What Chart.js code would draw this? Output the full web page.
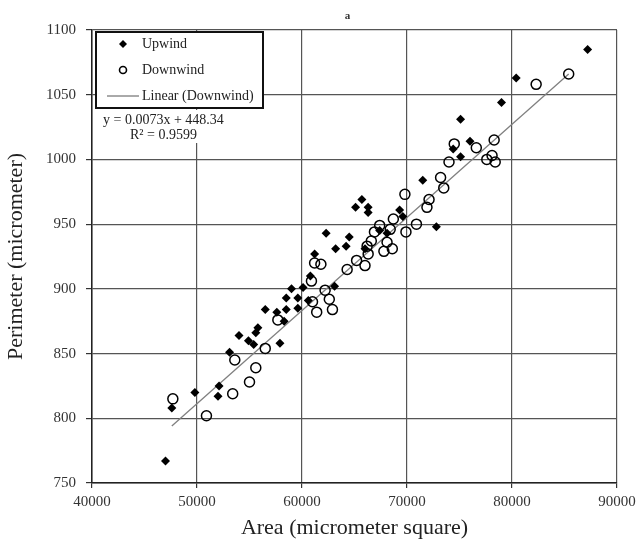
<!DOCTYPE html>
<html>
<head>
<meta charset="utf-8">
<script src="https://cdn.jsdelivr.net/npm/chart.js@4/dist/chart.umd.min.js"></script>
<style>
  html, body { margin: 0; padding: 0; background: #fff; }
  #wrap { width: 641px; height: 551px; position: relative; }
</style>
</head>
<body>
<div id="wrap"><canvas id="c" width="641" height="551"></canvas></div>
<script>
// ---- data ----
const chartTitle = "a";
const xAxisTitle = "Area (micrometer square)";
const yAxisTitle = "Perimeter (micrometer)";
const seriesNames = ["Upwind", "Downwind", "Linear (Downwind)"];
const equationLines = ["y = 0.0073x + 448.34", "R\u00b2 = 0.9599"];

const xTicks = [40000, 50000, 60000, 70000, 80000, 90000];
const yTicks = [750, 800, 850, 900, 950, 1000, 1050, 1100];

const upwindX = [47000, 47600, 49800, 52000, 52100, 53100, 54000, 54900, 55400, 55600, 55800, 56500, 57600, 57900, 58300, 58500, 58500, 59000, 59600, 59600, 60100, 60600, 60800, 61200, 62300, 63100, 63200, 64200, 64500, 65100, 65700, 66300, 66300, 66000, 67400, 68100, 69300, 69600, 71500, 72800, 74400, 75100, 75100, 76000, 79000, 80400, 87200];
const upwindY = [767, 808, 820, 817, 825, 851, 864, 860, 857, 866, 870, 884, 882, 858, 875, 884, 893, 900, 893, 885, 901, 891, 910, 927, 943, 902, 931, 933, 940, 963, 969, 963, 959, 931, 945, 943, 961, 956, 984, 948, 1008, 1002, 1031, 1014, 1044, 1063, 1085];

const downwindX = [47700, 50900, 53400, 53600, 55000, 55600, 56500, 57700, 60900, 61000, 61400, 61200, 61800, 62200, 62600, 62900, 64300, 65200, 66000, 66300, 66200, 66600, 66900, 67400, 67800, 68100, 68400, 68600, 68700, 69900, 70900, 69800, 71900, 72100, 73200, 73500, 74000, 74500, 76600, 77600, 78100, 78400, 78300, 82300, 85400];
const downwindY = [815, 802, 819, 845, 828, 839, 854, 876, 906, 890, 882, 920, 919, 899, 892, 884, 915, 922, 918, 927, 933, 937, 944, 949, 929, 936, 946, 931, 954, 944, 950, 973, 963, 969, 986, 978, 998, 1012, 1009, 1000, 1003, 998, 1015, 1058, 1066];

// trend line end points
const trendX = [47600, 85400];
const trendY = [794, 1066];

// ---- build ----
const zip = (xs, ys) => xs.map((x, i) => ({ x: x, y: ys[i] }));
const SERIF = '"Liberation Serif", "Times New Roman", serif';

const overlayPlugin = {
  id: 'overlay',
  afterDraw(chart) {
    const ctx = chart.ctx;
    ctx.save();
    // title
    ctx.fillStyle = '#333';
    ctx.font = 'bold 11px ' + SERIF;
    ctx.textAlign = 'center';
    ctx.textBaseline = 'middle';
    ctx.fillText(chartTitle, (chart.chartArea.left + chart.chartArea.right) / 2 - 7, 16);

    // legend box
    const bx = 96, by = 32, bw = 167, bh = 76;
    ctx.fillStyle = '#fff';
    ctx.fillRect(bx, by, bw, bh);
    ctx.strokeStyle = '#111';
    ctx.lineWidth = 2;
    ctx.strokeRect(bx, by, bw, bh);

    ctx.font = '14px ' + SERIF;
    ctx.textAlign = 'left';
    ctx.fillStyle = '#222';
    const rows = [44, 70, 96];
    // Upwind marker
    ctx.beginPath();
    ctx.moveTo(123 - 4, rows[0]); ctx.lineTo(123, rows[0] - 4);
    ctx.lineTo(123 + 4, rows[0]); ctx.lineTo(123, rows[0] + 4); ctx.closePath();
    ctx.fillStyle = '#000'; ctx.fill();
    // Downwind marker
    ctx.beginPath();
    ctx.arc(123, rows[1], 3.5, 0, Math.PI * 2);
    ctx.lineWidth = 1.6; ctx.strokeStyle = '#000'; ctx.stroke();
    // Linear line
    ctx.beginPath();
    ctx.moveTo(107, rows[2]); ctx.lineTo(139, rows[2]);
    ctx.lineWidth = 1; ctx.strokeStyle = '#555'; ctx.stroke();

    ctx.fillStyle = '#222';
    ctx.fillText(seriesNames[0], 142, rows[0]);
    ctx.fillText(seriesNames[1], 142, rows[1]);
    ctx.fillText(seriesNames[2], 142, rows[2]);

    // equation label
    ctx.fillStyle = '#fff';
    ctx.fillRect(98, 110, 136, 33);
    ctx.fillStyle = '#222';
    ctx.fillText(equationLines[0], 103, 120);
    ctx.fillText(equationLines[1], 130, 135);
    ctx.restore();
  }
};

new Chart(document.getElementById('c'), {
  type: 'scatter',
  data: {
    datasets: [
      {
        label: seriesNames[0],
        data: zip(upwindX, upwindY),
        pointStyle: 'rectRot',
        pointRadius: 4.5,
        pointHoverRadius: 4.5,
        backgroundColor: '#000',
        borderColor: '#000',
        borderWidth: 0
      },
      {
        label: seriesNames[1],
        data: zip(downwindX, downwindY),
        pointStyle: 'circle',
        pointRadius: 5,
        pointHoverRadius: 5,
        backgroundColor: 'rgba(255,255,255,0)',
        borderColor: '#000',
        borderWidth: 1.5
      },
      {
        label: seriesNames[2],
        type: 'line',
        data: zip(trendX, trendY),
        showLine: true,
        pointRadius: 0,
        borderColor: '#808080',
        borderWidth: 1.3,
        fill: false
      }
    ]
  },
  options: {
    responsive: false,
    animation: false,
    events: [],
    layout: { padding: { top: 30, right: 24, left: 0, bottom: 0 } },
    plugins: {
      legend: { display: false },
      title: { display: false },
      tooltip: { enabled: false }
    },
    scales: {
      x: {
        type: 'linear',
        min: 40000, max: 90000,
        afterBuildTicks(scale) { scale.ticks = xTicks.map(v => ({ value: v })); },
        afterFit(scale) { scale.height = 68; },
        grid: { color: '#555', lineWidth: 1.2, tickLength: 5, tickColor: '#333', drawTicks: true },
        border: { display: true, color: '#222', width: 1.5 },
        ticks: { color: '#333', font: { family: SERIF, size: 15 }, padding: 5, maxRotation: 0,
                 callback: v => String(v) },
        title: { display: true, text: xAxisTitle, color: '#222', font: { family: SERIF, size: 22 },
                 padding: { top: 0, bottom: 10 } }
      },
      y: {
        type: 'linear',
        min: 750, max: 1100,
        afterBuildTicks(scale) { scale.ticks = yTicks.map(v => ({ value: v })); },
        afterFit(scale) { scale.width = 92; },
        grid: { color: '#555', lineWidth: 1.2, tickLength: 6, tickColor: '#333', drawTicks: true },
        border: { display: true, color: '#222', width: 1.5 },
        ticks: { color: '#333', font: { family: SERIF, size: 15 }, padding: 10,
                 callback: v => String(v) },
        title: { display: true, text: yAxisTitle, color: '#222', font: { family: SERIF, size: 22 },
                 padding: { top: 3, bottom: 0 } }
      }
    }
  },
  plugins: [overlayPlugin]
});
</script>
</body>
</html>
